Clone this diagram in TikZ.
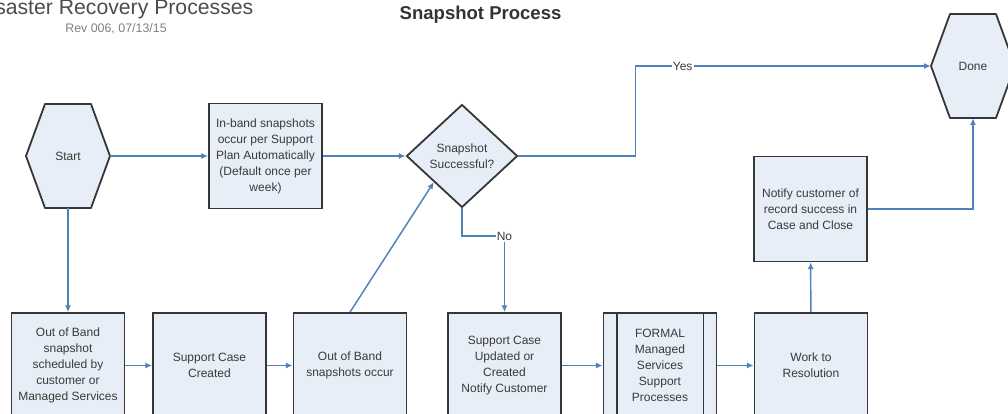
\documentclass[tikz,border=0pt]{standalone}
\usepackage{fontspec}
\setmainfont{Liberation Sans}
\usetikzlibrary{arrows.meta,shapes.geometric,calc}
\definecolor{boxfill}{HTML}{E8EEF7}
\definecolor{boxline}{HTML}{363636}
\definecolor{flowblue}{HTML}{4F81BD}
\definecolor{txtgray}{HTML}{3A3A3A}
\tikzset{
    stepbox/.style={draw=boxline, line width=1.35pt, fill=boxfill, minimum width=84.75pt,
        minimum height=78.75pt, inner sep=1pt, align=center, text=txtgray,
        font=\fontsize{9}{12}\selectfont},
    hexnode/.style={minimum width=63pt, minimum height=78pt, inner sep=0pt, text=txtgray,
        font=\fontsize{9}{12}\selectfont},
    hexshape/.style={draw=boxline, line width=1.35pt, fill=boxfill, line join=round},
    decbox/.style={diamond, draw=boxline, line width=1.35pt, fill=boxfill, minimum width=83.25pt,
        minimum height=77.25pt, inner sep=0pt, align=center, text=txtgray,
        font=\fontsize{9}{12}\selectfont},
    flow/.style={draw=flowblue, line width=1.1pt, -{Latex[length=5pt,width=4.5pt]}},
    lbl/.style={fill=white, inner sep=1pt, text=txtgray, font=\fontsize{9}{10}\selectfont}
}

\begin{document}
\begin{tikzpicture}[x=0.75pt, y=-0.75pt]
    \useasboundingbox (0,0) rectangle (1008,414);
    \node[anchor=base east, text=black!70, font=\fontsize{15.9}{18}\selectfont] (title) at (258,15) {Disaster Recovery Processes};
    \node[anchor=base, text=black!50, font=\fontsize{9.3}{11}\selectfont] (rev) at (116,32) {Rev 006, 07/13/15};
    \node[anchor=base west, text=black!80, font=\bfseries\fontsize{13.9}{16}\selectfont] (head) at (395,19) {Snapshot Process};

    \foreach \cx/\cy in {68/156, 973/66}{
        \draw[hexshape] (\cx-42,\cy) -- (\cx-23,\cy-52) -- (\cx+23,\cy-52) -- (\cx+42,\cy)
            -- (\cx+23,\cy+52) -- (\cx-23,\cy+52) -- cycle;
    }
    \node[hexnode] (start) at (68,156) {Start};
    \node[hexnode] (done) at (973,66) {Done};

    \node[stepbox] (inband) at (265.5,156) {In-band snapshots\\occur per Support\\Plan Automatically\\(Default once per\\week)};
    \node[decbox] (dec) at (462,156) {Snapshot\\Successful?};
    \node[stepbox] (notify) at (810.5,209) {Notify customer of\\record success in\\Case and Close};

    \node[stepbox] (oobs) at (68,365.5) {Out of Band\\snapshot\\scheduled by\\customer or\\Managed Services};
    \node[stepbox] (supc) at (209.5,365.5) {Support Case\\Created};
    \node[stepbox] (oobo) at (350,365.5) {Out of Band\\snapshots occur};
    \node[stepbox] (sucu) at (504.5,365.5) {Support Case\\Updated or\\Created\\Notify Customer};
    \node[stepbox] (fmsp) at (660,365.5) {FORMAL\\Managed\\Services\\Support\\Processes};
    \node[stepbox] (work) at (811,365.5) {Work to\\Resolution};
    \draw[boxline, line width=1.35pt] ([xshift=10.5pt]fmsp.north west) -- ([xshift=10.5pt]fmsp.south west);
    \draw[boxline, line width=1.35pt] ([xshift=-10.5pt]fmsp.north east) -- ([xshift=-10.5pt]fmsp.south east);

    \draw[flow] (start) -- (inband);
    \draw[flow] (inband) -- (dec);
    \draw[flow] (start) -- (oobs);
    \foreach \a/\b in {oobs/supc, supc/oobo, sucu/fmsp, fmsp/work}{
        \draw[flow] (\a) -- (\b);
    }
    \draw[flow] (oobo.north) -- (dec.south west);
    \draw[flow] (dec.east) -- ++(117,0) |- node[lbl, pos=0.58]{Yes} (done.west);
    \draw[flow] (dec.south) |- ($(sucu.north)+(0,-76)$) node[lbl]{No} -- (sucu.north);
    \draw[flow] (work) -- (notify);
    \draw[flow] (notify.east) -| (done.south);
\end{tikzpicture}
\end{document}
